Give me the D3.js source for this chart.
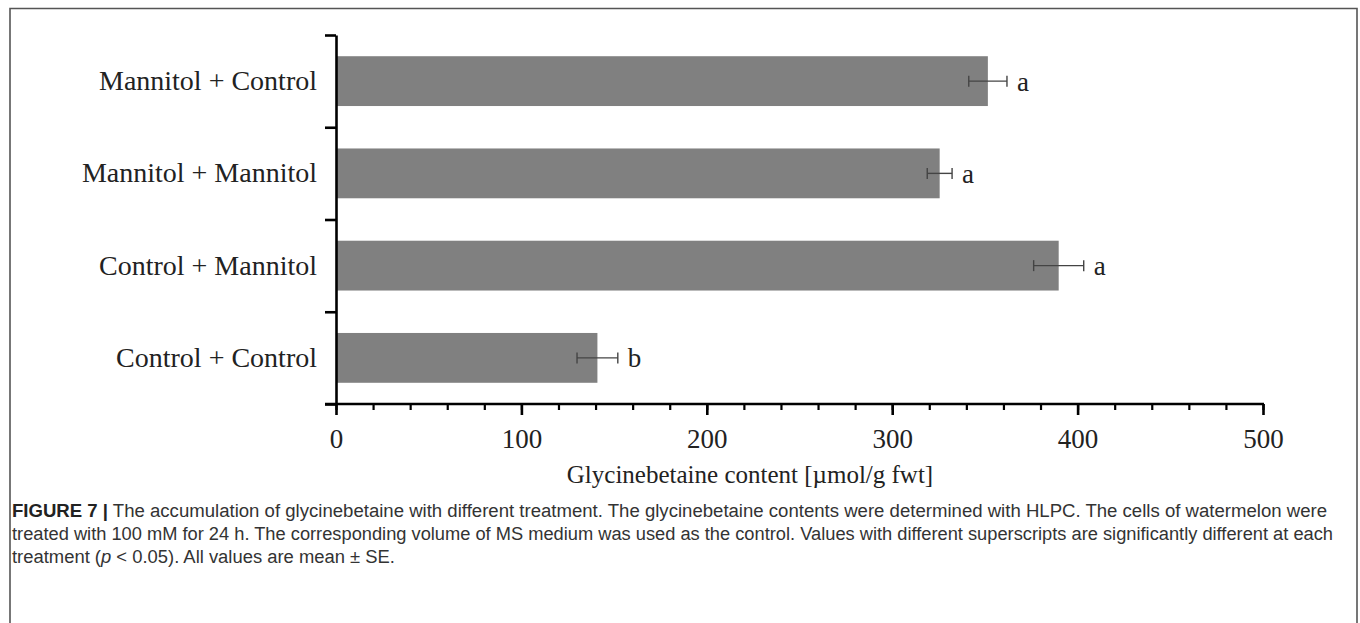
<!DOCTYPE html>
<html>
<head>
<meta charset="utf-8">
<script src="https://cdn.jsdelivr.net/npm/d3@7"></script>
<style>
  html, body { margin: 0; padding: 0; background: #fff; }
  svg { display: block; }
</style>
</head>
<body>
<svg id="chart" width="1360" height="623"></svg>
<script>
// ---- data ----
const categories = ["Mannitol + Control", "Mannitol + Mannitol", "Control + Mannitol", "Control + Control"];
const means = [351.6, 325.6, 389.8, 141.0];
const errors = [10.3, 6.7, 13.5, 11.0];
const letters = ["a", "a", "a", "b"];
const majorTicks = [0, 100, 200, 300, 400, 500];
const minorTicks = d3.range(0, 501, 20);
const xTitle = "Glycinebetaine content [\u00B5mol/g fwt]";
const captionLines = [
  ["FIGURE 7 |", " The accumulation of glycinebetaine with different treatment. The glycinebetaine contents were determined with HLPC. The cells of watermelon were"],
  ["", "treated with 100 mM for 24 h. The corresponding volume of MS medium was used as the control. Values with different superscripts are significantly different at each"],
  ["", "treatment (", "p", " < 0.05). All values are mean \u00B1 SE."]
];

// ---- layout ----
const svg = d3.select("#chart");
const serif = "'Liberation Serif', 'Times New Roman', serif";
const x = d3.scaleLinear().domain([0, 500]).range([336, 1263]);
const y = d3.scaleBand().domain(categories).range([35, 404]).paddingInner(0.46).paddingOuter(0.23);

// frame
svg.append("path")
  .attr("d", "M10,630 L10,8.5 L1357,8.5 L1357,630")
  .attr("fill", "none").attr("stroke", "#555").attr("stroke-width", 1.6);

// bars
svg.append("g").selectAll("rect").data(categories).join("rect")
  .attr("x", x(0))
  .attr("y", d => y(d))
  .attr("width", (d, i) => x(means[i]) - x(0))
  .attr("height", y.bandwidth())
  .attr("fill", "#808080");

// error bars
const eg = svg.append("g").attr("stroke", "#444").attr("stroke-width", 1.4);
categories.forEach((c, i) => {
  const cy = y(c) + y.bandwidth() / 2;
  const x1 = x(means[i] - errors[i]), x2 = x(means[i] + errors[i]);
  eg.append("line").attr("x1", x1).attr("x2", x2).attr("y1", cy).attr("y2", cy);
  eg.append("line").attr("x1", x1).attr("x2", x1).attr("y1", cy - 5.5).attr("y2", cy + 5.5);
  eg.append("line").attr("x1", x2).attr("x2", x2).attr("y1", cy - 5.5).attr("y2", cy + 5.5);
});

// significance letters
svg.append("g").selectAll("text").data(categories).join("text")
  .attr("x", (d, i) => x(means[i] + errors[i]) + 10)
  .attr("y", d => y(d) + y.bandwidth() / 2 + 9.5)
  .attr("font-family", serif).attr("font-size", 27).attr("fill", "#222")
  .text((d, i) => letters[i]);

// x axis: minor ticks
const gMinor = svg.append("g").attr("transform", "translate(0,404)")
  .call(d3.axisBottom(x).tickValues(minorTicks).tickSize(6).tickFormat(""));
gMinor.select(".domain").remove();
gMinor.selectAll(".tick line").attr("stroke", "#000").attr("stroke-width", 2.2);

// x axis: major ticks + labels
const gMajor = svg.append("g").attr("transform", "translate(0,404)")
  .call(d3.axisBottom(x).tickValues(majorTicks).tickSize(11).tickPadding(14).tickFormat(d3.format("d")));
gMajor.select(".domain").remove();
gMajor.selectAll(".tick line").attr("stroke", "#000").attr("stroke-width", 2.6);
gMajor.selectAll(".tick text").attr("font-family", serif).attr("font-size", 27).attr("fill", "#222");

// x axis line (extends to the left as the bottom category tick)
svg.append("line").attr("x1", 325).attr("x2", x(500) + 1).attr("y1", 404).attr("y2", 404)
  .attr("stroke", "#000").attr("stroke-width", 2.6);

// y axis with boundary ticks
const yb = d3.scaleLinear().domain([0, categories.length]).range([35, 404]);
const gY = svg.append("g").attr("transform", "translate(336,0)")
  .call(d3.axisLeft(yb).ticks(categories.length).tickSize(11).tickFormat("").tickSizeOuter(0));
gY.select(".domain").attr("stroke", "#000").attr("stroke-width", 2.6);
gY.selectAll(".tick line").attr("stroke", "#000").attr("stroke-width", 2.6);

// category labels
const gC = svg.append("g").attr("transform", "translate(336,0)")
  .call(d3.axisLeft(y).tickSize(0).tickPadding(19));
gC.select(".domain").remove();
gC.selectAll(".tick text").attr("font-family", serif).attr("font-size", 28).attr("fill", "#222");

// x title
svg.append("text").attr("x", 750).attr("y", 483).attr("text-anchor", "middle")
  .attr("font-family", serif).attr("font-size", 25).attr("fill", "#222")
  .text(xTitle);

// caption
const capW = [1315, 1321, 383];
const capY = [517, 540, 563];
captionLines.forEach((parts, li) => {
  const t = svg.append("text").attr("x", 12).attr("y", capY[li])
    .attr("font-family", "'Liberation Sans', Arial, sans-serif")
    .attr("font-size", 18).attr("fill", "#333")
    .attr("textLength", capW[li]).attr("lengthAdjust", "spacingAndGlyphs");
  parts.forEach((p, pi) => {
    if (!p) return;
    const s = t.append("tspan").text(p);
    if (li === 0 && pi === 0) s.attr("font-weight", "bold").attr("fill", "#222");
    if (li === 2 && pi === 2) s.attr("font-style", "italic");
  });
});
</script>
</body>
</html>
